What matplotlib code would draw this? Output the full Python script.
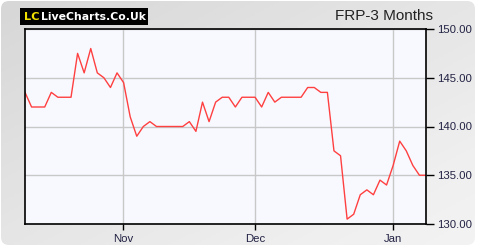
import matplotlib
matplotlib.use("Agg")
import matplotlib.pyplot as plt
import numpy as np
from matplotlib.patches import FancyBboxPatch

# FRP closing prices, 3 months (trading days)
prices = [143.5, 142.0, 142.0, 142.0, 143.5, 143.0, 143.0, 143.0, 147.5, 145.5,
          148.0, 145.5, 145.0, 144.0, 145.5, 144.5, 141.0, 139.0, 140.0, 140.5,
          140.0, 140.0, 140.0, 140.0, 140.0, 140.5, 139.5, 142.5, 140.5, 142.5,
          143.0, 143.0, 142.0, 143.0, 143.0, 143.0, 142.0, 143.5, 142.5, 143.0,
          143.0, 143.0, 143.0, 144.0, 144.0, 143.5, 143.5, 137.5, 137.0, 130.5,
          131.0, 133.0, 133.5, 133.0, 134.5, 134.0, 136.0, 138.5, 137.5, 136.0,
          135.0, 135.0]
month_pos = [14.95, 35.05, 55.95]
month_labels = ["Nov", "Dec", "Jan"]
y_ticks = [130, 135, 140, 145, 150]

W, H = 480, 250
fig = plt.figure(figsize=(W / 100, H / 100), dpi=100)
fig.patch.set_facecolor("white")

# background panel with a soft gradient
bg = fig.add_axes([0, 0, 1, 1])
bg.set_xlim(0, W)
bg.set_ylim(H, 0)
bg.axis("off")
gx = np.linspace(0, 1, 200)
gy = np.linspace(0, 1, 100)
grad = 0.5 * gx[None, :] + 0.5 * (1 - gy[:, None])
panel = FancyBboxPatch((1, 1), W - 6, H - 6, boxstyle="round,pad=0,rounding_size=8",
                       transform=bg.transData, facecolor="none", edgecolor="none")
bg.add_patch(panel)
im = bg.imshow(grad, extent=(0, W, 0, H), cmap="Greys_r", vmin=-4.5, vmax=1.6,
               aspect="auto", origin="upper")
im.set_clip_path(panel)
bg.set_ylim(H, 0)

# logo
bg.add_patch(plt.Rectangle((20, 8), 128, 17, facecolor="black", edgecolor="none"))
bg.text(24, 17, "LC", color="#f0e000", fontsize=8.2, fontweight="bold",
        family="DejaVu Sans", va="center", ha="left")
bg.text(41.5, 17, "LiveCharts.Co.Uk", color="white", fontsize=7.8, fontweight="bold",
        family="DejaVu Sans", va="center", ha="left")
bg.text(433, 16, "FRP-3 Months", color="#222222", fontsize=11, family="Liberation Sans",
        va="center", ha="right")

# chart
ax = fig.add_axes([25 / W, 1 - 224 / H, 401 / W, 195 / H])
ax.set_facecolor("#f8f9ff")
x = np.arange(len(prices))
ax.plot(x, prices, color="#ff4040", lw=1.0)
ax.set_xlim(0, len(prices) - 1)
ax.set_ylim(130, 150)
ax.set_xticks(month_pos)
ax.set_xticklabels(month_labels)
ax.set_yticks(y_ticks)
ax.set_yticklabels([f"{v:.2f}" for v in y_ticks])
ax.yaxis.tick_right()
ax.grid(True, color="#c8c8c8", lw=1)
ax.set_axisbelow(True)
for s in ax.spines.values():
    s.set_color("black")
    s.set_linewidth(1.2)
ax.tick_params(axis="y", direction="out", length=6, width=1, pad=2,
               labelsize=8.2, labelcolor="#222244", colors="black")
ax.tick_params(axis="x", direction="out", length=4, width=1, pad=3,
               labelsize=8.2, labelcolor="#222244")
for lab in ax.get_xticklabels() + ax.get_yticklabels():
    lab.set_family("Liberation Sans")

fig.savefig("out.png", dpi=100)
